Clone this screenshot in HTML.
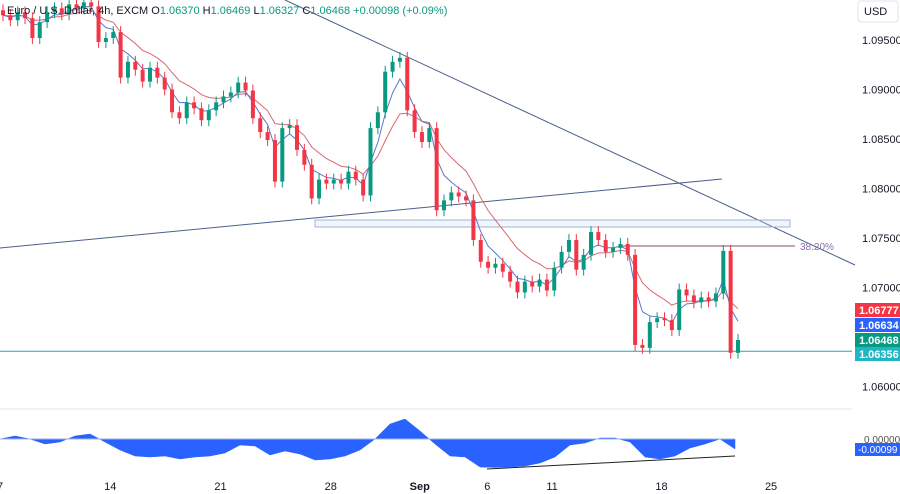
<!DOCTYPE html>
<html><head><meta charset="utf-8">
<style>
html,body{margin:0;padding:0;background:#fff;}
body{width:900px;height:494px;overflow:hidden;font-family:"Liberation Sans",sans-serif;}
svg{display:block}
</style></head>
<body>
<svg id="chart" width="900" height="494" viewBox="0 0 900 494" xmlns="http://www.w3.org/2000/svg" font-family="Liberation Sans, sans-serif">
  <g id="price-pane"></g>
  <g id="osc-pane"></g>
  <g id="axes"></g>
</svg>
<script>
// ---- data ----
const closes = [1.0975,1.0970,1.0978,1.0972,1.0952,1.0968,1.0978,1.0982,1.0976,1.0986,
1.0982,1.0988,1.0984,1.0948,1.0952,1.0958,1.0912,1.0928,1.0920,1.0908,
1.0922,1.0912,1.0900,1.0877,1.0871,1.0887,1.0881,1.0869,1.0879,1.0887,
1.0893,1.0897,1.0907,1.0899,1.0871,1.0857,1.0849,1.0807,1.0861,1.0864,
1.0839,1.0824,1.0790,1.0809,1.0805,1.0809,1.0805,1.0817,1.0809,1.0793,
1.0861,1.0877,1.0918,1.0928,1.0932,1.0879,1.0857,1.0847,1.0861,1.0778,
1.0788,1.0796,1.0792,1.0788,1.0748,1.0726,1.0720,1.0724,1.0716,1.0706,
1.0695,1.0706,1.0701,1.0708,1.0697,1.0720,1.0736,1.0748,1.0718,1.0733,
1.0756,1.0748,1.0736,1.0740,1.0744,1.0733,1.0642,1.0639,1.0665,1.0669,
1.0667,1.0657,1.0698,1.0692,1.0685,1.0690,1.0686,1.0694,1.0737,1.0634,1.0647];
const wickPad = [0.0006];
const oscValues = [0,3,0,-5,-3,3,5,-3,-11,-17,-18,-17,-20,-18,-17,-14,-6,-7,-16,-12,
-15,-21,-20,-17,-11,0,15,20,8,-5,-17,-18,-28,-28.5,-28,-27,-24,-18,-6,-4,
1,1,-3,-18,-20,-17,-9,-5,0,-10]; // x1e-4
const priceTicks = ["1.09500","1.09000","1.08500","1.08000","1.07500","1.07000","1.06000"];
const priceTickVals = [1.095,1.09,1.085,1.08,1.075,1.07,1.06];
const dateLabels = ["7","14","21","28","Sep","6","11","18","25"];
const dateIdx = [-0.4,14.6,29.6,44.6,56.7,65.9,74.7,89.6,104.5];
const tagLabels = ["1.06777","1.06634","1.06468","1.06356"];
const tagVals = [1.06777,1.06634,1.06468,1.06356];
const tagColors = ["#f23645","#2962ff","#089981","#1fb5c4"];

// ---- axes ----
const NS="http://www.w3.org/2000/svg";
const yP = p => 40 + (1.095 - p) * 9900;
const xI = i => 3 + i * 7.35;
const yO = v => 439 - v * 1.0;
const oX = k => k * 735 / (oscValues.length - 1);
function mk(parent, tag, attrs){const e=document.createElementNS(NS,tag);for(const k in attrs)e.setAttribute(k,attrs[k]);parent.appendChild(e);return e;}
const pp=document.getElementById('price-pane'), op=document.getElementById('osc-pane'), ax=document.getElementById('axes');

let l;
l=mk(pp,'line',{x1:0,y1:248,x2:722,y2:179,stroke:'#4a5f8c','stroke-width':1});


l=mk(pp,'line',{x1:285,y1:0,x2:855,y2:265,stroke:'#4a5f8c','stroke-width':1});


l=mk(pp,'rect',{x:315,y:220,width:475,height:7,fill:'rgba(200,220,240,0.25)',stroke:'#9fb4d4','stroke-width':1});


l=mk(pp,'line',{x1:620,y1:246,x2:795,y2:246,stroke:'#8c4a5e','stroke-width':1});


l=mk(pp,'text',{x:800,y:250,'font-size':10,fill:'#8a6cae'});l.textContent='38.20%';


l=mk(pp,'line',{x1:0,y1:yP(1.06356),x2:852,y2:yP(1.06356),stroke:'#26a6b0','stroke-width':1});



function ema(n){const k=2/(n+1);let e=closes[0];return closes.map(c=>(e=c*k+e*(1-k)));}
const maFast=ema(4), maSlow=ema(10);
l=mk(pp,'polyline',{points:maSlow.map((v,i)=>xI(i)+','+yP(v)).join(' '),fill:'none',stroke:'#d9676f','stroke-width':1});


l=mk(pp,'polyline',{points:maFast.map((v,i)=>xI(i)+','+yP(v)).join(' '),fill:'none',stroke:'#5a78c8','stroke-width':1});



closes.forEach((c,i)=>{
  const o = i===0 ? c+0.0005 : closes[i-1];
  const hi = Math.max(o,c)+wickPad[0], lo = Math.min(o,c)-wickPad[0];
  const col = c>=o ? '#089981' : '#f23645';
  const g=mk(pp,'g',{});
  
  
  mk(g,'line',{x1:xI(i),y1:yP(hi),x2:xI(i),y2:yP(lo),stroke:col,'stroke-width':1});
  const top=yP(Math.max(o,c)), h=Math.max(1,yP(Math.min(o,c))-top);
  mk(g,'rect',{x:xI(i)-2,y:top,width:4,height:h,fill:col});
});

// oscillator
l=mk(op,'line',{x1:0,y1:409,x2:852,y2:409,stroke:'#e0e3eb','stroke-width':1});


let d='M0,'+yO(0)+' '+oscValues.map((v,k)=>'L'+oX(k)+','+yO(v)).join(' ')+' L735,'+yO(0)+' Z';
l=mk(op,'path',{d:d,fill:'#2962ff',stroke:'#2962ff','stroke-width':0.5});


l=mk(op,'line',{x1:0,y1:yO(0),x2:735,y2:yO(0),stroke:'#9fb4e8','stroke-width':1});


l=mk(op,'line',{x1:487,y1:469,x2:735,y2:456,stroke:'#222','stroke-width':1});



priceTicks.forEach((t,i)=>{
  const e=mk(ax,'text',{x:862,y:yP(priceTickVals[i])+4,'font-size':11,fill:'#131722'});e.textContent=t;
  
  
});
const tagY=[310,325,340,354];
tagLabels.forEach((t,i)=>{
  const y=tagY[i];
  const g=mk(ax,'g',{});
  
  
  g.setAttribute('data-value',tagVals[i]);
  mk(g,'rect',{x:855,y:y-7,width:45,height:14,fill:tagColors[i]});
  const e=mk(g,'text',{x:859,y:y+4,'font-size':11,fill:'#fff','font-weight':'bold'});e.textContent=t;
});

l=mk(ax,'text',{x:864,y:443,'font-size':10,fill:'#555'});l.textContent='0.00000';


l=mk(ax,'rect',{x:855,y:443,width:45,height:13,fill:'#2962ff'});


l=mk(ax,'text',{x:858,y:453,'font-size':10,fill:'#fff'});l.textContent='-0.00099';



dateLabels.forEach((t,i)=>{
  const e=mk(ax,'text',{x:xI(dateIdx[i]),y:490,'font-size':11,fill:'#131722','text-anchor':'middle','font-weight':t==='Sep'?'bold':'normal'});e.textContent=t;
  
  
});

l=mk(ax,'rect',{x:858,y:1,width:40,height:21,rx:3,fill:'#fff',stroke:'#e0e3eb'});


l=mk(ax,'text',{x:864,y:15,'font-size':11,fill:'#131722'});l.textContent='USD';



const hd=mk(ax,'text',{x:7,y:14,'font-size':11,fill:'#131722'});


hd.innerHTML='Euro / U.S. Dollar, 4h, EXCM  <tspan>O</tspan><tspan fill="#089981">1.06370</tspan> <tspan>H</tspan><tspan fill="#089981">1.06469</tspan> <tspan>L</tspan><tspan fill="#089981">1.06327</tspan> <tspan>C</tspan><tspan fill="#089981">1.06468 +0.00098 (+0.09%)</tspan>';
</script>
</body></html>
